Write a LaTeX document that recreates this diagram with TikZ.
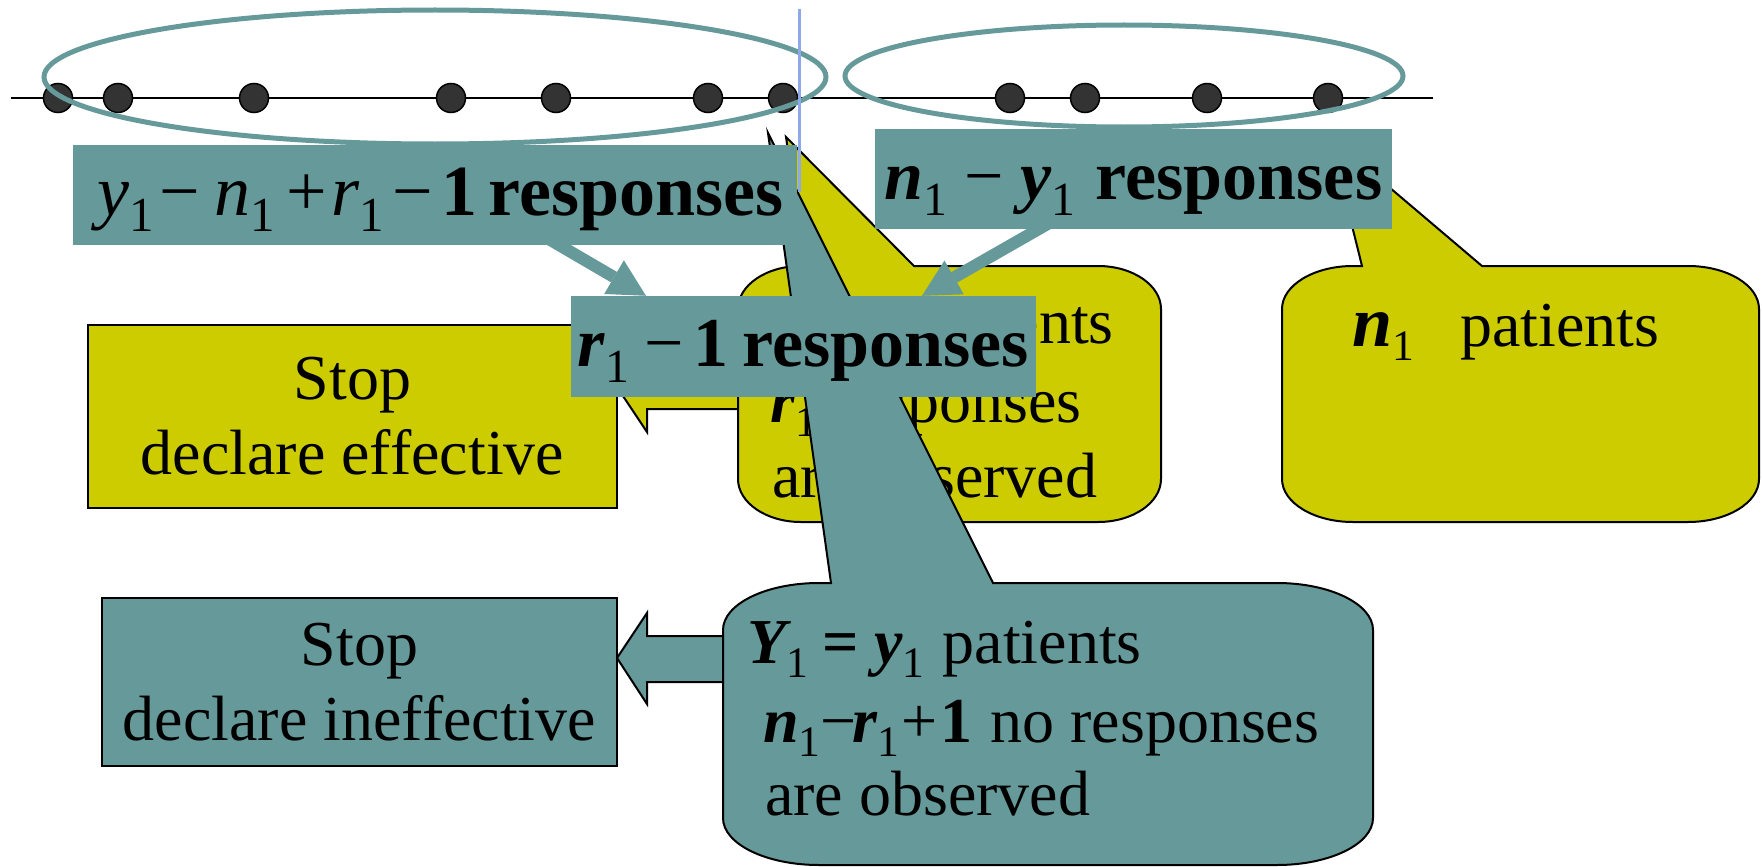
\documentclass[tikz,border=0pt]{standalone}
\usepackage{fontspec}
\setmainfont{Liberation Serif}
\usepackage{graphicx}
\usetikzlibrary{arrows.meta}
\definecolor{tealc}{RGB}{102,153,153}
\definecolor{yelc}{RGB}{204,204,0}
\definecolor{dotc}{RGB}{51,51,51}
\definecolor{bluec}{RGB}{143,168,232}
\newcommand{\vb}[1]{{\bfseries\itshape #1}}
\newcommand{\vi}[1]{{\mdseries\itshape #1}}
\newcommand{\sbs}[1]{\raisebox{-0.23em}{\scalebox{0.68}{\mdseries\upshape #1}}}
\newcommand{\gp}[1]{\hspace{#1pt}}
\newcommand{\txtsize}{\fontsize{64}{77}\selectfont}
\newcommand{\boxsize}{\fontsize{70}{80}\selectfont}
\newcommand{\stopsize}{\fontsize{64}{75}\selectfont}
% callout body with elliptic corners and a tail: L T R B rx ry prefix
\newcommand{\calloutpath}[7]{(#1,{#2+#6}) .. controls (#1,{#2+0.448*#6}) and ({#1+0.448*#5},#2) .. ({#1+#5},#2) -- (#7a) -- (#7t) -- (#7b) -- ({#3-#5},#2) .. controls ({#3-0.448*#5},#2) and (#3,{#2+0.448*#6}) .. (#3,{#2+#6}) -- (#3,{#4-#6}) .. controls (#3,{#4-0.448*#6}) and ({#3-0.448*#5},#4) .. ({#3-#5},#4) -- ({#1+#5},#4) .. controls ({#1+0.448*#5},#4) and (#1,{#4-0.448*#6}) .. (#1,{#4-#6}) -- cycle}
\begin{document}
\begin{tikzpicture}[x=1pt,y=-1pt,line join=miter,
  txt/.style={inner sep=0pt,font=\txtsize},
  tbox/.style={fill=tealc,inner sep=0pt,text height=52pt,text depth=12pt,font=\boxsize},
  stopbox/.style={draw=black,line width=2pt,inner sep=0pt,align=center,font=\stopsize},
  outl/.style={draw=black,line width=2pt},
  tarrow/.style={tealc,line width=12pt,-{Triangle[length=37pt,width=39pt,line width=0pt]}}]
\useasboundingbox (0,0) rectangle (1762,867);
% time line with patients
\draw[black,line width=2pt] (11,98) -- (1433,98);
\foreach \x in {58,118,254,451,556,708,783,1010,1085,1207,1328}
  \filldraw[fill=dotc,draw=black,line width=1.5pt] (\x,98) circle[radius=14.5];
\draw[tealc,line width=5pt] (435,77) ellipse[x radius=391,y radius=67];
\draw[tealc,line width=5pt] (1124,76) ellipse[x radius=279,y radius=51];
% stop boxes
\node[stopbox,fill=yelc,minimum width=529pt,minimum height=183pt] (stopE) at (352.5,416.5) {Stop\\declare effective};
\node[stopbox,fill=tealc,minimum width=515pt,minimum height=168pt] (stopI) at (359.5,682) {Stop\\declare ineffective};
% yellow block arrow
\filldraw[fill=yelc,outl] (745,364) -- (647,364) -- (647,342) -- (617,387) -- (647,432) -- (647,409) -- (745,409) -- cycle;
% middle yellow callout
\coordinate (yma) at (805,266);
\coordinate (ymt) at (786,137);
\coordinate (ymb) at (914,266);
\filldraw[fill=yelc,outl] \calloutpath{738}{266}{1161}{522}{63}{43}{ym};
\node[txt,anchor=base east] (ym1) at (1114,343) {\vb{Y}\sbs{1}\gp{14}\textbf{=}\gp{16}\vb{y}\sbs{1}\gp{18}patients};
\node[txt,anchor=base west] (ym2) at (770,422) {\vb{r}\sbs{1} responses};
\node[txt,anchor=base west] (ym3) at (772,497) {are observed};
% right yellow callout
\coordinate (yra) at (1362,266);
\coordinate (yrt) at (1330,137);
\coordinate (yrb) at (1482,266);
\filldraw[fill=yelc,outl] \calloutpath{1282}{266}{1759}{522}{71}{43}{yr};
\node[txt,anchor=base west] (yr1) at (1352,346) {{\fontsize{72}{80}\selectfont\vb{n}}\sbs{1}\gp{46}patients};
% teal block arrow
\filldraw[fill=tealc,outl] (730,636) -- (647,636) -- (647,613) -- (617,658) -- (647,704) -- (647,682) -- (730,682) -- cycle;
% teal callout
\coordinate (tca) at (831,583);
\coordinate (tct) at (768,133);
\coordinate (tcb) at (993,583);
\filldraw[fill=tealc,outl] \calloutpath{723}{583}{1373}{865}{96}{47}{tc};
\node[txt,anchor=base west] (tc1) at (747,663) {\vb{Y}\sbs{1}\gp{14}\textbf{=}\gp{16}\vb{y}\sbs{1}\gp{18}patients};
\node[txt,anchor=base west] (tc2) at (763,742) {\vb{n}\sbs{1}−\hspace{-4pt}\vb{r}\sbs{1}\gp{2}+\gp{3}\textbf{1}\gp{18}no responses};
\node[txt,anchor=base west] (tc3) at (765,815) {are observed};
% teal labels
\node[tbox,minimum width=724pt,minimum height=100pt] (box1) at (435,195) {\fontsize{72}{80}\selectfont\gp{11}\vi{y}\sbs{1}\gp{6}−\gp{14}\vi{n}\sbs{1}\gp{11}+\gp{5}\vi{r}\sbs{1}\gp{8}−\gp{9}\textbf{1}\gp{11}\textbf{responses}};
\node[tbox,minimum width=517pt,minimum height=100pt] (box2) at (1133.5,179) {\vb{n}\sbs{1}\gp{17}−\gp{17}\vb{y}\sbs{1}\gp{20}\textbf{responses}};
\node[tbox,minimum width=465pt,minimum height=101pt] (box3) at (803.5,346.5) {\vb{r}\sbs{1}\gp{15}−\gp{10}\textbf{1}\gp{14}\textbf{responses}};
% arrows
\draw[tarrow] ([xshift=114pt,yshift=6pt]box1.south) -- ([xshift=-157.5pt]box3.north);
\draw[tarrow] ([xshift=-84.5pt,yshift=6pt]box2.south) -- ([xshift=118.5pt]box3.north);
% separator
\draw[bluec,line width=3pt] (799,9) -- (799,192);
\end{tikzpicture}
\end{document}
